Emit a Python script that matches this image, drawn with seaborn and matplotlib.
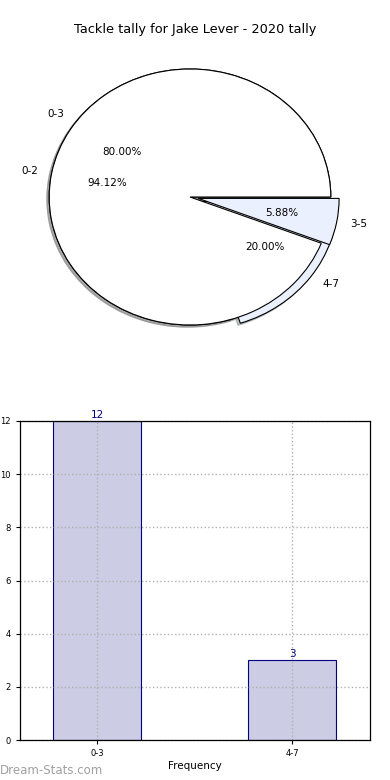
import matplotlib
matplotlib.use("Agg")
import matplotlib.pyplot as plt
import seaborn as sns
import pandas as pd

# ---- data ----
title = "Tackle tally for Jake Lever - 2020 tally"
outer_labels = ["0-3", "4-7"]
outer_values = [12, 3]
inner_labels = ["0-2", "3-5"]
inner_values = [16, 1]
bar_categories = ["0-3", "4-7"]
bar_values = [12, 3]
y_ticks = [0, 2, 4, 6, 8, 10, 12]

plt.rcParams['font.family'] = ['DejaVu Sans']

fig = plt.figure(figsize=(3.9, 7.8), dpi=100)

# ---- pie ----
ax1 = fig.add_axes([14/390, 1-357/780, 352/390, 320/780])
wp = dict(edgecolor="black", linewidth=0.8)
tp = dict(fontsize=7.5)
shadow = dict(ox=-0.012, oy=-0.012, shade=0.45)
ax1.pie(outer_values, labels=outer_labels, explode=[0, 0.06],
        autopct="%.2f%%", shadow=shadow, colors=["white", "#eaf0fd"],
        wedgeprops=wp, textprops=tp, labeldistance=1.1, pctdistance=0.6)
ax1.pie(inner_values, labels=inner_labels, explode=[0, 0.06],
        autopct="%.2f%%", shadow=shadow, colors=["white", "#eaf0fd"],
        wedgeprops=wp, textprops=tp, labeldistance=1.1, pctdistance=0.6)
ax1.set_aspect("auto")
ax1.set_xlim(-1.25, 1.25)
ax1.set_ylim(-1.25, 1.25)
ax1.axis("off")

fig.text(195/390, 1-30/780, title, ha="center", va="center", fontsize=9.3)

# ---- bar ----
ax2 = fig.add_axes([20/390, 40/780, 350/390, 319/780])
df = pd.DataFrame({"range": bar_categories, "count": bar_values})
sns.barplot(data=df, x="range", y="count", color="#ccccE4", saturation=1,
            edgecolor="navy", linewidth=0.8, width=0.45, ax=ax2)
ax2.set_xlim(-0.395, 1.4)
ax2.set_ylim(0, 12)
ax2.set_yticks(y_ticks)
ax2.tick_params(labelsize=6, length=3)
ax2.grid(True, linestyle=":", color="#b0b0b0", linewidth=1)
ax2.set_axisbelow(False)
for c in ax2.containers:
    ax2.bar_label(c, labels=[str(v) for v in bar_values], color="navy",
                  fontsize=7.5, padding=1)
ax2.set_xlabel("Frequency", fontsize=7.5, labelpad=2)
ax2.set_ylabel("Distribution", fontsize=7.5)
ax2.yaxis.set_label_coords(-0.063, 0.5)
for s in ax2.spines.values():
    s.set_color("black")
    s.set_linewidth(0.9)
    s.set_zorder(3)

fig.text(0.0, 1-770/780, "Dream-Stats.com", color="#a0a0a0", fontsize=8.5,
         ha="left", va="center")

fig.savefig("out.png", dpi=100)
